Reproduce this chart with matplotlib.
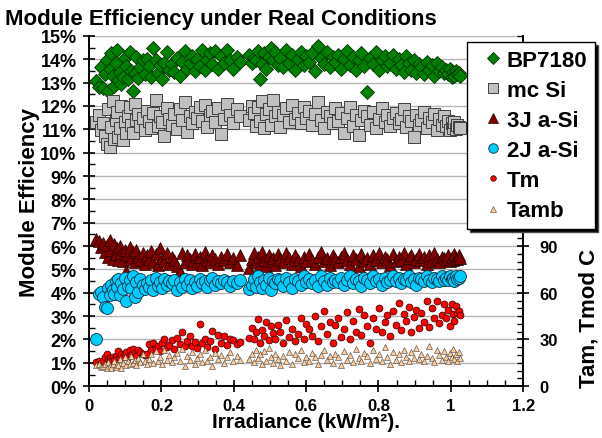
import matplotlib
matplotlib.use('Agg')
import matplotlib.pyplot as plt
from matplotlib.ticker import MultipleLocator, FixedLocator, FuncFormatter

plt.rcParams['font.family'] = ['Liberation Sans', 'DejaVu Sans']
plt.rcParams['font.weight'] = 'bold'

# irradiance (kW/m2), shared by all series
irradiance = [
    0.020, 0.027, 0.033, 0.039, 0.044, 0.049, 0.053, 0.057, 0.061, 0.065,
    0.069, 0.073, 0.077, 0.081, 0.085, 0.089, 0.094, 0.099, 0.103, 0.108,
    0.112, 0.117, 0.121, 0.126, 0.131, 0.136, 0.142, 0.148, 0.154, 0.160,
    0.166, 0.172, 0.178, 0.184, 0.190, 0.196, 0.202, 0.208, 0.215, 0.222,
    0.229, 0.236, 0.243, 0.250, 0.257, 0.264, 0.271, 0.278, 0.285, 0.292,
    0.299, 0.306, 0.313, 0.320, 0.327, 0.334, 0.341, 0.349, 0.357, 0.365,
    0.373, 0.381, 0.390, 0.399, 0.408, 0.417, 0.443, 0.449, 0.455, 0.461,
    0.467, 0.472, 0.478, 0.484, 0.490, 0.496, 0.502, 0.508, 0.515, 0.522,
    0.529, 0.537, 0.545, 0.553, 0.561, 0.569, 0.577, 0.585, 0.593, 0.601,
    0.609, 0.617, 0.625, 0.633, 0.641, 0.649, 0.657, 0.665, 0.673, 0.681,
    0.689, 0.697, 0.705, 0.713, 0.721, 0.729, 0.737, 0.745, 0.753, 0.761,
    0.769, 0.777, 0.785, 0.793, 0.801, 0.809, 0.817, 0.825, 0.833, 0.841,
    0.849, 0.856, 0.863, 0.870, 0.877, 0.884, 0.891, 0.898, 0.905, 0.912,
    0.919, 0.926, 0.933, 0.940, 0.947, 0.954, 0.961, 0.968, 0.975, 0.982,
    0.988, 0.993, 0.998, 1.002, 1.006, 1.010, 1.014, 1.018, 1.022, 1.026,
]

# module efficiencies (%)
bp7180 = [
    13.05, 12.80, 13.65, 12.75, 13.35, 13.95, 12.65, 13.60, 14.25, 13.30,
    12.85, 13.85, 14.40, 13.10, 13.45, 12.95, 13.25, 14.05, 13.70, 13.15,
    14.30, 13.50, 12.65, 13.40, 14.10, 13.20, 13.65, 13.95, 13.35, 14.00,
    13.70, 13.25, 14.50, 13.95, 13.40, 13.75, 13.15, 13.85, 14.30, 13.55,
    13.80, 13.45, 14.05, 13.30, 13.90, 14.35, 13.60, 13.85, 14.15, 13.50,
    14.00, 13.70, 14.40, 13.55, 13.95, 14.25, 13.80, 14.35, 13.60, 14.15,
    13.85, 14.40, 13.95, 13.60, 14.10, 13.90, 14.20, 13.85, 14.05, 13.95,
    14.35, 13.15, 13.80, 14.25, 13.60, 14.10, 14.50, 13.95, 14.30, 13.75,
    14.05, 13.65, 14.40, 13.85, 14.20, 13.55, 14.00, 14.30, 13.75, 14.15,
    13.90, 14.25, 13.50, 14.55, 14.05, 13.80, 14.30, 13.65, 14.10, 13.90,
    14.20, 13.60, 14.00, 14.35, 13.75, 14.10, 13.55, 13.95, 14.25, 13.70,
    12.60, 14.05, 13.80, 14.30, 13.55, 13.95, 14.15, 13.70, 13.85, 14.20,
    13.60, 14.00, 13.75, 13.45, 14.15, 13.85, 13.55, 13.95, 13.40, 13.80,
    13.65, 13.35, 13.90, 13.55, 13.75, 13.30, 13.85, 13.50, 13.65, 13.40,
    13.55, 13.35, 13.60, 13.25, 13.45, 13.30, 13.50, 13.35, 13.40, 13.30,
]
mc_si = [
    11.30, 11.60, 10.95, 11.25, 10.70, 10.35, 11.85, 10.25, 11.10, 12.20,
    10.60, 11.40, 11.75, 10.65, 11.05, 12.00, 10.55, 11.30, 10.85, 11.55,
    11.95, 11.20, 10.85, 12.10, 11.40, 11.65, 11.15, 11.50, 10.95, 11.80,
    11.35, 11.05, 11.70, 12.25, 11.15, 11.55, 11.30, 10.70, 11.90, 11.45,
    11.20, 11.65, 11.00, 11.85, 11.40, 12.15, 10.90, 11.55, 11.25, 11.75,
    11.50, 11.95, 11.35, 12.05, 11.10, 11.60, 11.80, 11.30, 11.90, 10.80,
    11.45, 12.10, 11.60, 11.25, 11.85, 11.55, 11.40, 12.00, 11.70, 11.15,
    11.95, 11.35, 12.20, 11.05, 11.65, 11.85, 11.20, 12.25, 11.55, 11.75,
    11.10, 11.60, 11.90, 11.30, 12.05, 11.45, 11.70, 11.25, 11.95, 11.50,
    11.80, 11.20, 11.65, 12.15, 11.40, 11.05, 11.75, 11.55, 11.25, 11.90,
    11.35, 11.70, 10.85, 11.50, 11.95, 11.15, 11.60, 10.75, 11.40, 11.80,
    11.55, 11.20, 11.75, 11.05, 11.45, 11.90, 11.30, 11.60, 11.15, 11.50,
    11.70, 11.25, 11.45, 11.85, 11.10, 11.55, 11.35, 10.65, 11.60, 11.20,
    11.40, 11.75, 11.05, 11.50, 11.30, 11.65, 10.95, 11.45, 11.20, 11.55,
    11.15, 11.35, 10.95, 11.25, 11.05, 11.30, 11.00, 11.20, 11.10, 11.05,
]
a_si_3j = [
    6.30, 6.20, 5.95, 6.15, 5.75, 6.05, 5.55, 6.25, 5.85, 5.45,
    6.10, 5.65, 5.90, 5.40, 6.00, 5.70, 5.35, 5.85, 4.95, 5.60,
    5.95, 5.45, 5.75, 5.30, 5.85, 5.55, 5.40, 5.70, 5.25, 5.60,
    5.45, 5.80, 5.30, 5.65, 5.20, 5.90, 5.50, 5.35, 5.70, 5.25,
    5.55, 5.40, 5.15, 4.95, 5.70, 5.30, 5.60, 5.45, 5.25, 5.65,
    5.35, 5.55, 5.20, 5.75, 5.40, 5.30, 5.60, 5.45, 5.25, 5.55,
    5.40, 5.65, 5.30, 5.50, 5.20, 5.60, 5.05, 5.45, 5.70, 5.30,
    5.55, 5.25, 5.75, 5.40, 5.15, 5.60, 5.35, 5.50, 5.20, 5.65,
    5.45, 5.30, 5.70, 5.50, 5.25, 5.60, 5.40, 5.15, 5.55, 5.35,
    5.65, 5.40, 5.25, 5.55, 5.75, 5.35, 5.50, 5.20, 5.60, 5.45,
    5.30, 5.55, 5.70, 5.40, 5.25, 5.60, 5.45, 5.15, 5.65, 5.35,
    5.50, 5.25, 5.60, 5.40, 5.70, 5.30, 5.55, 5.45, 5.20, 5.65,
    5.35, 5.55, 5.40, 5.70, 5.25, 5.50, 5.60, 5.30, 5.45, 5.65,
    5.40, 5.55, 5.25, 5.60, 5.35, 5.70, 5.45, 5.30, 5.55, 5.50,
    5.45, 5.60, 5.35, 5.55, 5.40, 5.65, 5.50, 5.45, 5.60, 5.50,
]
a_si_2j = [
    2.00, 3.95, 4.05, 3.80, 3.40, 3.35, 4.20, 3.90, 4.35, 4.10,
    3.95, 4.50, 4.25, 4.60, 3.90, 4.40, 4.15, 4.65, 3.65, 4.30,
    4.55, 4.20, 4.70, 3.80, 4.45, 4.05, 4.60, 4.35, 4.15, 4.40,
    4.25, 4.55, 4.10, 4.65, 4.30, 4.45, 4.20, 4.60, 4.35, 4.50,
    4.40, 4.55, 4.10, 4.45, 4.25, 4.60, 4.35, 4.55, 4.20, 4.45,
    4.30, 4.60, 4.40, 4.50, 4.25, 4.55, 4.65, 4.35, 4.50, 4.40,
    4.55, 4.45, 4.30, 4.50, 4.40, 4.55, 4.15, 4.35, 4.60, 4.25,
    4.70, 4.45, 4.20, 4.55, 4.35, 4.65, 4.10, 4.50, 4.40, 4.60,
    4.55, 4.30, 4.65, 4.45, 4.20, 4.60, 4.50, 4.35, 4.70, 4.45,
    4.60, 4.40, 4.55, 4.30, 4.70, 4.50, 4.35, 4.65, 4.45, 4.55,
    4.45, 4.65, 4.35, 4.55, 4.70, 4.40, 4.60, 4.50, 4.30, 4.65,
    4.55, 4.40, 4.70, 4.50, 4.60, 4.35, 4.65, 4.45, 4.55, 4.70,
    4.50, 4.65, 4.40, 4.60, 4.55, 4.70, 4.45, 4.60, 4.35, 4.65,
    4.60, 4.50, 4.70, 4.55, 4.45, 4.65, 4.60, 4.50, 4.70, 4.55,
    4.65, 4.55, 4.70, 4.60, 4.65, 4.50, 4.70, 4.60, 4.65, 4.70,
]

# temperatures (C), secondary axis
t_mod = [
    15.5, 16.0, 15.0, 16.5, 19.0, 20.5, 17.5, 18.0, 16.5, 18.5,
    17.0, 19.5, 17.5, 22.5, 18.0, 21.0, 19.0, 20.5, 22.0, 18.5,
    23.0, 20.0, 24.0, 21.5, 19.5, 23.5, 22.0, 20.5, 20.0, 21.0,
    27.0, 23.0, 28.0, 24.5, 26.0, 22.5, 27.5, 30.0, 25.0, 26.5,
    29.5, 24.0, 31.0, 27.0, 35.0, 25.5, 29.0, 32.5, 26.0, 28.5,
    24.5, 40.0, 27.5, 30.5, 25.0, 29.0, 35.5, 24.0, 33.0, 28.0,
    32.0, 26.5, 30.5, 29.5, 27.0, 28.5, 31.0, 37.5, 30.0, 34.5,
    43.0, 28.0, 36.0, 32.5, 41.0, 29.5, 38.5, 34.0, 30.0, 39.5,
    35.0, 27.5, 42.5, 31.5, 37.0, 29.0, 33.5, 43.5, 30.5, 40.0,
    36.5, 32.0, 45.0, 29.0, 38.5, 48.5, 33.5, 41.0, 27.5, 39.0,
    44.0, 31.5, 36.5, 47.5, 30.0, 42.0, 35.0, 49.5, 33.0, 46.0,
    38.5, 28.0, 43.5, 37.0, 50.5, 34.5, 41.5, 45.5, 32.0, 48.0,
    39.0, 53.5, 36.0, 46.5, 42.0, 51.0, 34.5, 44.5, 49.0, 37.5,
    47.0, 41.0, 54.5, 38.0, 50.0, 43.5, 55.0, 40.5, 46.0, 52.5,
    44.0, 49.0, 38.5, 53.0, 46.5, 42.0, 51.5, 47.0, 48.5, 45.5,
]
t_amb = [
    13.5, 14.0, 12.5, 13.0, 14.5, 12.0, 15.5, 13.0, 11.5, 14.0,
    16.0, 12.5, 14.5, 13.5, 17.5, 12.0, 15.0, 18.5, 13.5, 16.5,
    14.0, 19.5, 15.0, 17.0, 13.5, 18.0, 15.5, 20.5, 16.5, 14.0,
    17.5, 21.0, 15.0, 22.5, 16.0, 19.0, 14.5, 23.0, 17.0, 20.0,
    15.5, 18.5, 21.5, 16.0, 24.0, 13.0, 19.5, 17.0, 22.0, 14.5,
    18.0, 20.5, 15.5, 23.5, 16.5, 19.0, 13.0, 21.5, 17.5, 20.0,
    15.0, 18.5, 22.0, 16.5, 19.5, 17.0, 17.5, 21.0, 15.5, 23.0,
    18.0, 20.5, 14.5, 22.5, 16.0, 24.5, 19.0, 15.0, 21.0, 17.5,
    13.5, 19.5, 16.5, 22.0, 14.0, 20.5, 18.0, 23.5, 15.5, 19.0,
    16.5, 21.5, 18.5, 14.5, 20.0, 23.0, 17.0, 19.5, 15.0, 21.0,
    18.5, 13.5, 22.5, 17.0, 20.0, 15.5, 24.0, 18.0, 16.0, 21.5,
    19.5, 15.0, 23.0, 17.5, 21.0, 16.5, 25.0, 18.5, 14.5, 22.0,
    17.0, 20.5, 15.5, 23.5, 19.0, 16.0, 22.0, 18.0, 24.5, 17.5,
    21.0, 16.5, 19.5, 25.5, 18.0, 15.5, 23.0, 20.0, 17.0, 22.5,
    19.0, 16.0, 21.5, 18.5, 24.0, 17.5, 20.5, 16.5, 22.0, 18.0,
]

fig = plt.figure(figsize=(6.02, 4.39), dpi=100)
ax = fig.add_axes([0.148, 0.118, 0.721, 0.798])
ax2 = ax.twinx()

h1, = ax.plot(irradiance, bp7180, 'D', ms=7.6, mfc='#008000', mec='#003300', mew=0.6, label='BP7180')
h2, = ax.plot(irradiance, mc_si, 's', ms=8.2, mfc='#c0c0c0', mec='#404040', mew=0.7, label='mc Si')
h3, = ax.plot(irradiance, a_si_3j, '^', ms=8.2, mfc='#800000', mec='#200000', mew=0.5, label='3J a-Si')
h4, = ax.plot(irradiance, a_si_2j, 'o', ms=8.6, mfc='#00ccff', mec='#103040', mew=0.6, label='2J a-Si')
h5, = ax2.plot(irradiance, t_mod, 'o', ms=5, mfc='#ff0000', mec='#300000', mew=0.5, label='Tm')
h6, = ax2.plot(irradiance, t_amb, '^', ms=5, mfc='#ffcc99', mec='#404040', mew=0.4, label='Tamb')

ax.set_xlim(0, 1.2)
ax.set_ylim(0, 15)
ax2.set_ylim(0, 225)

ax.xaxis.set_major_locator(MultipleLocator(0.2))
ax.xaxis.set_minor_locator(MultipleLocator(0.05))
ax.xaxis.set_major_formatter(FuncFormatter(lambda v, p: '%g' % round(v, 2)))
ax.yaxis.set_major_locator(MultipleLocator(1))
ax.yaxis.set_minor_locator(MultipleLocator(0.5))
ax.yaxis.set_major_formatter(FuncFormatter(lambda v, p: '%d%%' % round(v)))
# upper part of the right axis sits behind the legend
ax2.yaxis.set_major_locator(FixedLocator([0, 30, 60, 90]))
ax2.yaxis.set_minor_locator(MultipleLocator(5))

ax.grid(axis='y', color='#b4b4b4', lw=1)
ax.set_axisbelow(True)
for a in (ax, ax2):
    a.spines['top'].set_visible(False)
    for s in ('left', 'bottom', 'right'):
        a.spines[s].set_linewidth(1.2)
ax.tick_params(which='major', direction='inout', length=8, width=1.2)
ax.tick_params(which='minor', direction='in', length=4, width=1)
ax2.tick_params(which='major', direction='inout', length=8, width=1.2)
ax2.tick_params(which='minor', direction='in', length=4, width=1)
ax.tick_params(axis='y', labelsize=13, pad=5)
ax.tick_params(axis='x', labelsize=12, pad=4.5)
ax2.tick_params(axis='y', labelsize=12, pad=8)

ax.set_xlabel('Irradiance (kW/m²).', fontsize=15, fontweight='bold', labelpad=-0.5)
ax.set_ylabel('Module Efficiency', fontsize=16, fontweight='bold')
ax.yaxis.set_label_coords(-0.113, 0.526)
ax2.set_ylabel('Tam, Tmod C', fontsize=16, fontweight='bold', rotation=90)
ax2.yaxis.set_label_coords(1.127, 0.197)

fig.text(0.008, 0.943, 'Module Efficiency under Real Conditions', fontsize=16,
         fontweight='bold', ha='left', va='baseline')

leg = fig.legend(handles=[h1, h2, h3, h4, h5, h6], loc='upper left',
                 bbox_to_anchor=(467 / 602, 1 - 43 / 439), borderaxespad=0,
                 fontsize=16, frameon=True, fancybox=False, edgecolor='black',
                 handlelength=1.6, handletextpad=-0.15, borderpad=0.35,
                 labelspacing=0.41, markerscale=0.8,
                 shadow={'facecolor': 'black', 'alpha': 1})
leg.get_frame().set_linewidth(1)
for t in leg.get_texts():
    t.set_fontweight('bold')

plt.savefig('out.png', dpi=100)
